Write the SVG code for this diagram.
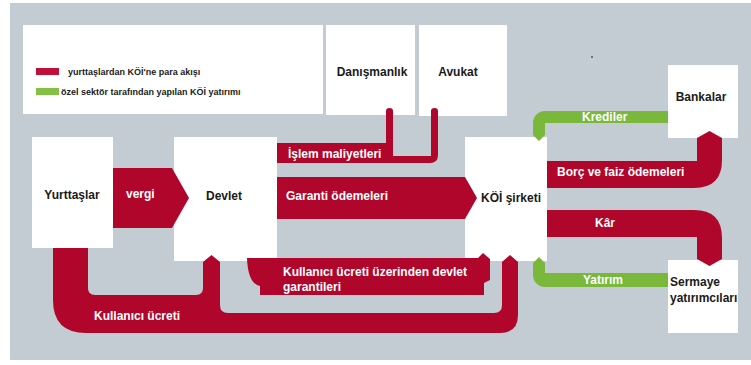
<svg xmlns="http://www.w3.org/2000/svg" width="751" height="365" viewBox="0 0 751 365">
<style>
.box{fill:#ffffff}
.red{fill:#b0062c}
.green{fill:#7ab83c}
.lbl{font-family:"Liberation Sans",Arial,sans-serif;font-size:12px;font-weight:bold;fill:#1a1a1a}
.wl{font-family:"Liberation Sans",Arial,sans-serif;font-size:12px;font-weight:bold;fill:#ffffff}
.leg{font-family:"Liberation Sans",Arial,sans-serif;font-size:9px;font-weight:bold;fill:#1a1a1a}
</style>
<rect x="0" y="0" width="751" height="365" fill="#ffffff"/>
<rect x="10" y="3" width="741" height="357" fill="#c4ccd3"/>
<rect x="591" y="56" width="2" height="2" fill="#6e757c"/>

<g id="legend">
<rect class="box" x="23" y="25" width="300" height="89"/>
<rect x="36" y="68" width="23" height="7" fill="#c0103a"/>
<text class="leg" x="68" y="75">yurttaşlardan KÖİ'ne para akışı</text>
<rect x="36" y="88" width="23" height="7" fill="#84c041"/>
<text class="leg" x="61" y="95">özel sektör tarafından yapılan KÖİ yatırımı</text>
</g>

<g id="danismanlik"><rect class="box" x="326" y="25" width="89" height="90"/><text class="lbl" x="372" y="76" text-anchor="middle">Danışmanlık</text></g>
<g id="avukat"><rect class="box" x="419" y="25" width="88" height="91"/><text class="lbl" x="458" y="76" text-anchor="middle">Avukat</text></g>
<g id="bankalar"><rect class="box" x="668" y="65" width="70" height="73"/><text class="lbl" x="701" y="101" text-anchor="middle">Bankalar</text></g>
<g id="yurttaslar"><rect class="box" x="32" y="137" width="81" height="111"/><text class="lbl" x="72" y="199" text-anchor="middle">Yurttaşlar</text></g>
<g id="devlet"><rect class="box" x="174" y="137" width="103" height="124"/><text class="lbl" x="224" y="200" text-anchor="middle">Devlet</text></g>
<g id="koi"><rect class="box" x="465" y="137" width="82" height="124"/><text class="lbl" x="511" y="202" text-anchor="middle">KÖİ şirketi</text></g>
<g id="sermaye"><rect class="box" x="668" y="260" width="70" height="73"/><text class="lbl" x="670" y="286">Sermaye</text><text class="lbl" x="670" y="302">yatırımcıları</text></g>

<g id="connectors">
<polygon class="red" points="113,168 172,168 189,198 172,228 113,228"/>
<text class="wl" x="126" y="198">vergi</text>

<path class="red" d="M277,143 H386 V111 Q386,108 389.5,108 Q393,108 393,111 V156 H431 V111 Q431,108 434.5,108 Q438,108 438,111 V155 Q438,163 430,163 H277 Z"/>
<text class="wl" x="288" y="158">İşlem maliyetleri</text>

<polygon class="red" points="277,177 465,177 477,198 465,219 277,219"/>
<text class="wl" x="286" y="200">Garanti ödemeleri</text>

<path class="red" d="M53,248 V300 Q53,333 86,333 H500 Q518,333 518,315 V262 L510,255 L502,262 V305 Q502,313 494,313 H228 Q220,313 220,305 V262 L211.5,255 L203,262 V288 Q203,295 196,295 H95 Q88,295 88,288 V248 Z"/>
<text class="wl" x="94" y="320">Kullanıcı ücreti</text>

<path class="red" d="M247,258 H478 L483,253 L490,259 V280 L484,283 V295 H260 V286 Q248,284 247,258 Z"/>
<text class="wl" x="283" y="276">Kullanıcı ücreti üzerinden devlet</text>
<text class="wl" x="283" y="291">garantileri</text>

<path class="green" d="M668,111 H545 A12,12 0 0 0 533,123 V135 L539,141 L545,135 V123 H668 Z"/>
<text class="wl" x="582" y="121">Krediler</text>

<path class="red" d="M547,161 H697 V138 L709.5,131 L722,138 V160 Q722,188 694,188 H547 Z"/>
<text class="wl" x="557" y="176">Borç ve faiz ödemeleri</text>

<path class="red" d="M547,210 H694 Q722,210 722,238 V259 L709.5,266 L697,259 V237 H547 Z"/>
<text class="wl" x="605" y="227" text-anchor="middle">Kâr</text>

<path class="green" d="M668,273 H545 V263 L539,257 L533,263 V275 A12,12 0 0 0 545,287 H668 Z"/>
<text class="wl" x="583" y="284">Yatırım</text>
</g>
</svg>
